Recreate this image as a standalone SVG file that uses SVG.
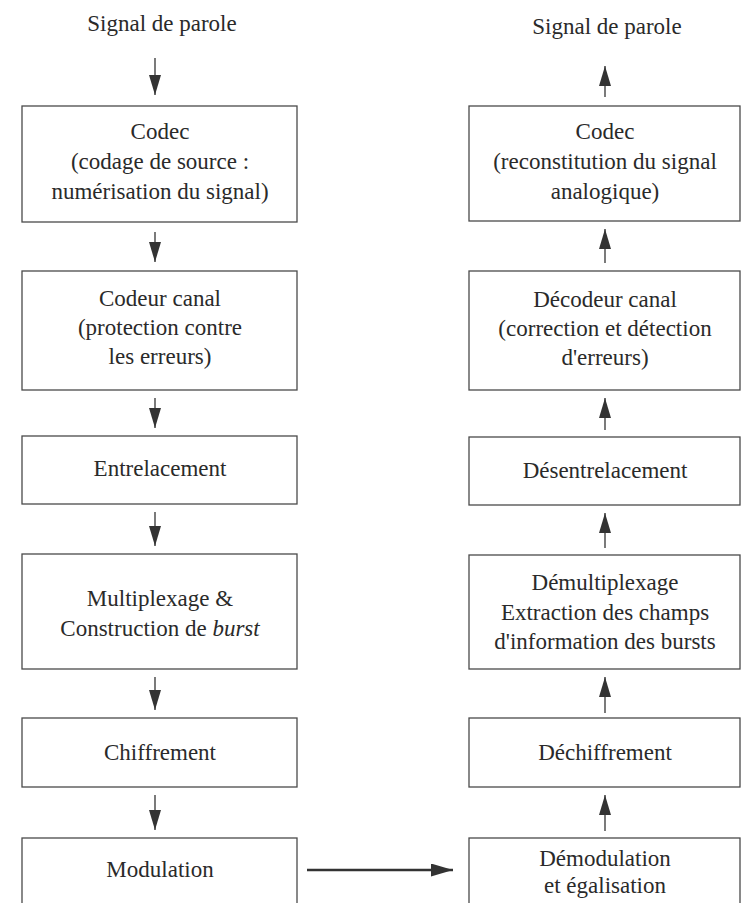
<svg xmlns="http://www.w3.org/2000/svg" width="742" height="903" viewBox="0 0 742 903">
<style>
.box{fill:#fff;stroke:#4a4a4a;stroke-width:1.3}
.t{font-family:"Liberation Serif","Times New Roman",serif;font-size:23px;fill:#2a2a2a;text-anchor:middle}
.c{stroke:#333;stroke-width:1.3;fill:none}
.h{stroke:#333;stroke-width:2.4;fill:none}
</style>
<defs>
<marker id="ah" viewBox="0 0 20 12" refX="20" refY="6" markerWidth="20" markerHeight="12" markerUnits="userSpaceOnUse" orient="auto">
<path d="M0,0 L20,6 L0,12 Z" fill="#333"/>
</marker>
<marker id="ahb" viewBox="0 0 22 13" refX="22" refY="6.5" markerWidth="22" markerHeight="13" markerUnits="userSpaceOnUse" orient="auto">
<path d="M0,0 L22,6.5 L0,13 Z" fill="#333"/>
</marker>
</defs>
<rect width="742" height="903" fill="#fff"/>
<g id="src-left"><text class="t" x="162" y="31">Signal de parole</text></g>
<g id="src-right"><text class="t" x="607" y="34">Signal de parole</text></g>
<g id="codec-l"><rect class="box" x="22" y="106" width="275" height="116"/>
<text class="t" x="160" y="139">Codec</text><text class="t" x="160" y="169">(codage de source :</text><text class="t" x="160" y="199">numérisation du signal)</text></g>
<g id="codeur-l"><rect class="box" x="22" y="271" width="275" height="119"/>
<text class="t" x="160" y="306">Codeur canal</text><text class="t" x="160" y="335">(protection contre</text><text class="t" x="160" y="364">les erreurs)</text></g>
<g id="entre-l"><rect class="box" x="22" y="436" width="275" height="68"/>
<text class="t" x="160" y="476">Entrelacement</text></g>
<g id="multi-l"><rect class="box" x="22" y="554" width="275" height="115"/>
<text class="t" x="160" y="606">Multiplexage &amp;</text><text class="t" x="160" y="636">Construction de <tspan font-style="italic">burst</tspan></text></g>
<g id="chiff-l"><rect class="box" x="22" y="718" width="275" height="69"/>
<text class="t" x="160" y="760">Chiffrement</text></g>
<g id="modul-l"><rect class="box" x="22" y="838" width="275" height="80"/>
<text class="t" x="160" y="877">Modulation</text></g>
<g id="codec-r"><rect class="box" x="469" y="106" width="271" height="115"/>
<text class="t" x="605" y="139">Codec</text><text class="t" x="605" y="169">(reconstitution du signal</text><text class="t" x="605" y="199">analogique)</text></g>
<g id="decod-r"><rect class="box" x="469" y="271" width="271" height="119"/>
<text class="t" x="605" y="307">Décodeur canal</text><text class="t" x="605" y="336">(correction et détection</text><text class="t" x="605" y="365">d'erreurs)</text></g>
<g id="desent-r"><rect class="box" x="469" y="437" width="271" height="68"/>
<text class="t" x="605" y="478">Désentrelacement</text></g>
<g id="demux-r"><rect class="box" x="469" y="555" width="271" height="114"/>
<text class="t" x="605" y="590">Démultiplexage</text><text class="t" x="605" y="620">Extraction des champs</text><text class="t" x="605" y="649">d'information des bursts</text></g>
<g id="dechiff-r"><rect class="box" x="469" y="718" width="271" height="69"/>
<text class="t" x="605" y="760">Déchiffrement</text></g>
<g id="demod-r"><rect class="box" x="469" y="838" width="271" height="80"/>
<text class="t" x="605" y="866">Démodulation</text><text class="t" x="605" y="893">et égalisation</text></g>
<g id="connectors">
<line class="c" x1="155" y1="58" x2="155" y2="95" marker-end="url(#ah)"/>
<line class="c" x1="155" y1="232" x2="155" y2="262" marker-end="url(#ah)"/>
<line class="c" x1="155" y1="398" x2="155" y2="428" marker-end="url(#ah)"/>
<line class="c" x1="155" y1="512" x2="155" y2="546" marker-end="url(#ah)"/>
<line class="c" x1="155" y1="677" x2="155" y2="710" marker-end="url(#ah)"/>
<line class="c" x1="155" y1="795" x2="155" y2="830" marker-end="url(#ah)"/>
<line class="h" x1="307" y1="870" x2="453" y2="870" marker-end="url(#ahb)"/>
<line class="c" x1="605" y1="831" x2="605" y2="795" marker-end="url(#ah)"/>
<line class="c" x1="605" y1="713" x2="605" y2="677" marker-end="url(#ah)"/>
<line class="c" x1="605" y1="548" x2="605" y2="513" marker-end="url(#ah)"/>
<line class="c" x1="605" y1="430" x2="605" y2="398" marker-end="url(#ah)"/>
<line class="c" x1="605" y1="263" x2="605" y2="229" marker-end="url(#ah)"/>
<line class="c" x1="605" y1="97" x2="605" y2="66" marker-end="url(#ah)"/>
</g>
</svg>
